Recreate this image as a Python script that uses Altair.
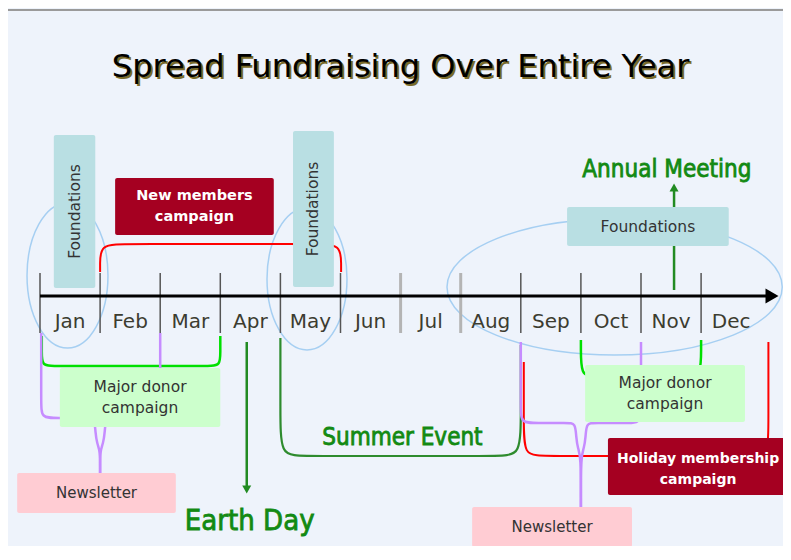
import altair as alt
import pandas as pd

# ---------------- values ----------------
TITLE = "Spread Fundraising Over Entire Year"

months = ["Jan", "Feb", "Mar", "Apr", "May", "Jun", "Jul", "Aug", "Sep", "Oct", "Nov", "Dec"]
month_start = list(range(12))
tick_color = ["#555555"] * 6 + ["#B4B4B4"] * 2 + ["#555555"] * 4
tick_width = [1.5] * 6 + [3.0] * 2 + [1.5] * 4

# boxes: month span and vertical span (units above the time axis)
box_label = ["Foundations", "Foundations", "Foundations", "New members\ncampaign",
             "Major donor\ncampaign", "Major donor\ncampaign", "Newsletter", "Newsletter",
             "Holiday membership\ncampaign"]
box_from = [0.23, 4.21, 8.77, 1.25, 0.33, 9.07, -0.38, 7.19, 9.45]
box_to = [0.92, 4.89, 11.46, 3.89, 3.00, 11.73, 2.26, 9.85, 12.45]
box_top = [161, 165, 89, 118, -72, -69, -177, -211, -142]
box_bottom = [8, 9, 50, 61, -131, -126, -217, -251, -199]
box_fill = ["#B9DFE3"] * 3 + ["#A50021"] + ["#CCFFCC"] * 2 + ["#FFCCD3"] * 2 + ["#A50021"]
box_text_color = ["#333333"] * 3 + ["#FFFFFF"] + ["#333333"] * 4 + ["#FFFFFF"]
box_text_size = [15.5, 15.5, 15.5, 14.5, 15.5, 15.5, 15, 15, 14]
box_text_angle = [270, 270, 0, 0, 0, 0, 0, 0, 0]
box_text_bold = [False] * 3 + [True] + [False] * 4 + [True]
box_text_shift = [0, 0, 0, -10.5, -10.5, -10.5, 0, 0, -8]

# campaign brackets
br_from = [1.0, 4.0, 8.05, 0.03, 9.0]
br_to = [5.01, 8.0, 12.12, 3.0, 11.0]
br_y_from = [24, -42, -66, -40, -44]
br_y_to = [24, -49, -46, -40, -44]
br_y_base = [52, -160, -160, -70, -80]
br_rx = [0.4, 0.33, 0.3, 0.2, 0.2]
br_ry = [22, 45, 35, 14, 30]
br_color = ["#FF0000", "#2E8B2E", "#FF0000", "#00E000", "#00E000"]
br_width = [2.0, 2.2, 2.0, 2.5, 2.5]

# newsletter braces
nl_from = [0.02, 8.0]
nl_to = [2.0, 10.0]
nl_mid = [1.0, 9.0]
nl_y_from = [-37, -46]
nl_y_base = [-122, -127]
nl_y_merge = [-154, -159]
nl_y_end = [-177, -211]

# ellipses (month span, vertical span)
ell_x_from = [-0.216, 3.777, 6.772]
ell_x_to = [1.131, 5.108, 12.35]
ell_y_from = [93, 88, 77]
ell_y_to = [-52, -54, -59]

# events
event_text = ["Annual Meeting", "Summer Event", "Earth Day"]
event_x = [10.43, 6.03, 3.49]
event_y = [119, -149, -234]
event_size = [24, 24, 29]

arrow_x = [3.44, 10.55]
arrow_from = [-46, 6]
arrow_to = [-190, 106]
arrow_head_y = [-193.5, 108.5]
arrow_shape = ["triangle-down", "triangle-up"]

# ---------------- scales ----------------
W, H = 775, 538
PX_PER_MONTH = 60.1
X_MIN, X_MAX = -32 / PX_PER_MONTH, (W - 32) / PX_PER_MONTH
Y_MAX = 288
Y_MIN = Y_MAX - H
PX_PER_UNIT = H / (Y_MAX - Y_MIN)

xs = alt.Scale(domain=[X_MIN, X_MAX], nice=False, zero=False)
ys = alt.Scale(domain=[Y_MIN, Y_MAX], nice=False, zero=False)


def X(f):
    return alt.X(f, type="quantitative", scale=xs, axis=None)


def Y(f):
    return alt.Y(f, type="quantitative", scale=ys, axis=None)


SANS = "DejaVu Sans"
HAND = "DejaVu Sans Condensed, DejaVu Sans"

layers = []

# top frame line
layers.append(alt.Chart(pd.DataFrame({"y": [286]})).mark_rule(color="#9A9A9A", strokeWidth=2)
              .encode(y=Y("y")))


# ellipses as custom symbols (Bezier outline in the unit square)
def ellipse_path(a, b):
    k = 0.5523
    f = lambda v: f"{v:.4f}"
    return (f"M{f(a)} 0 C{f(a)} {f(k*b)} {f(k*a)} {f(b)} 0 {f(b)} "
            f"C{f(-k*a)} {f(b)} {f(-a)} {f(k*b)} {f(-a)} 0 "
            f"C{f(-a)} {f(-k*b)} {f(-k*a)} {f(-b)} 0 {f(-b)} "
            f"C{f(k*a)} {f(-b)} {f(a)} {f(-k*b)} {f(a)} 0Z")


for x0, x1, y0, y1 in zip(ell_x_from, ell_x_to, ell_y_from, ell_y_to):
    rx = (x1 - x0) / 2 * PX_PER_MONTH
    ry = abs(y0 - y1) / 2 * PX_PER_UNIT
    m = max(rx, ry)
    d = pd.DataFrame({"x": [(x0 + x1) / 2], "y": [(y0 + y1) / 2]})
    layers.append(alt.Chart(d).mark_point(shape=ellipse_path(rx / m, ry / m), size=float((2 * m) ** 2),
                                          filled=False, color="#A6CFF2", strokeWidth=1.5, opacity=1)
                  .encode(x=X("x"), y=Y("y")))

# bracket + brace lines
rows = []
g = 0
for x0, x1, y0, y1, yb, rx, ry, c, w in zip(br_from, br_to, br_y_from, br_y_to, br_y_base,
                                            br_rx, br_ry, br_color, br_width):
    s0 = 1 if y0 > yb else -1
    s1 = 1 if y1 > yb else -1
    pts = [(x0, y0), (x0, yb + s0 * ry), (x0, yb), (x0 + rx, yb), (x1 - rx, yb), (x1, yb),
           (x1, yb + s1 * ry), (x1, y1)]
    for i, (px, py) in enumerate(pts):
        rows.append({"g": g, "o": i, "x": px, "y": py, "c": c, "w": w})
    g += 1

for x0, x1, xc, y0, yb, ym, ye in zip(nl_from, nl_to, nl_mid, nl_y_from, nl_y_base, nl_y_merge, nl_y_end):
    for side, xe in ((-1, x0), (1, x1)):
        pts = [(xe, y0), (xe, yb + 15), (xe, yb), (xe - side * 0.25, yb),
               (xc + side * 0.22, yb), (xc + side * 0.09, yb), (xc + side * 0.08, yb - 14),
               (xc + side * 0.05, ym + 6), (xc, ym), (xc, ye)]
        for i, (px, py) in enumerate(pts):
            rows.append({"g": g, "o": i, "x": px, "y": py, "c": "#C68CFF", "w": 2.5})
        g += 1

lines = pd.DataFrame(rows)
for gid in sorted(lines["g"].unique()):
    d = lines[lines["g"] == gid]
    layers.append(alt.Chart(d).mark_line(interpolate="basis", color=d["c"].iloc[0],
                                         strokeWidth=float(d["w"].iloc[0]))
                  .encode(x=X("x"), y=Y("y"), order="o:Q"))

# event arrows
arr = pd.DataFrame({"x": arrow_x, "y": arrow_from, "y2": arrow_to, "h": arrow_head_y})
layers.append(alt.Chart(arr).mark_rule(color="#228B22", strokeWidth=2.5)
              .encode(x=X("x"), y=Y("y"), y2="y2:Q"))
for i in range(len(arrow_x)):
    layers.append(alt.Chart(arr.iloc[[i]]).mark_point(shape=arrow_shape[i], filled=True, size=81,
                                                      color="#228B22", opacity=1)
                  .encode(x=X("x"), y=Y("h")))

# month ticks, time axis and arrow head
ticks = pd.DataFrame({"x": month_start, "y": [23] * 12, "y2": [-37] * 12})
for i in range(12):
    layers.append(alt.Chart(ticks.iloc[[i]]).mark_rule(color=tick_color[i], strokeWidth=tick_width[i])
                  .encode(x=X("x"), y=Y("y"), y2="y2:Q"))
ax = pd.DataFrame({"x": [0.0], "x2": [12.1], "y": [0.0], "hx": [12.18]})
layers.append(alt.Chart(ax).mark_rule(color="black", strokeWidth=3)
              .encode(x=X("x"), x2="x2:Q", y=Y("y")))
layers.append(alt.Chart(ax).mark_point(shape="triangle-right", filled=True, size=225,
                                       color="black", opacity=1)
              .encode(x=X("hx"), y=Y("y")))

# boxes
boxes = pd.DataFrame({"label": box_label, "x": box_from, "x2": box_to, "y": box_top, "y2": box_bottom})
boxes["cx"] = (boxes["x"] + boxes["x2"]) / 2
boxes["cy"] = (boxes["y"] + boxes["y2"]) / 2
for i in range(len(box_label)):
    layers.append(alt.Chart(boxes.iloc[[i]]).mark_rect(cornerRadius=2, color=box_fill[i])
                  .encode(x=X("x"), x2="x2:Q", y=Y("y"), y2="y2:Q"))
for i in range(len(box_label)):
    layers.append(alt.Chart(boxes.iloc[[i]])
                  .mark_text(font=SANS, fontWeight="bold" if box_text_bold[i] else "normal",
                             fontSize=box_text_size[i], color=box_text_color[i],
                             angle=box_text_angle[i], lineBreak="\n", lineHeight=21,
                             dy=box_text_shift[i], align="center", baseline="middle")
                  .encode(x=X("cx"), y=Y("cy"), text="label:N"))

# month labels
ml = pd.DataFrame({"m": months, "x": [s + 0.5 for s in month_start], "y": [-32] * 12})
layers.append(alt.Chart(ml).mark_text(font=SANS, fontSize=20, color="#3C3C30", align="center",
                                      baseline="alphabetic")
              .encode(x=X("x"), y=Y("y"), text="m:N"))

# title with shadow
tt = pd.DataFrame({"t": [TITLE], "x": [6.0], "y": [219]})
layers.append(alt.Chart(tt).mark_text(font=SANS, fontSize=32, color="#7A6B2A", dx=2, dy=2,
                                      align="center", baseline="alphabetic")
              .encode(x=X("x"), y=Y("y"), text="t:N"))
layers.append(alt.Chart(tt).mark_text(font=SANS, fontSize=32, color="#000000",
                                      align="center", baseline="alphabetic")
              .encode(x=X("x"), y=Y("y"), text="t:N"))

# events
ev = pd.DataFrame({"t": event_text, "x": event_x, "y": event_y})
for i in range(len(event_text)):
    layers.append(alt.Chart(ev.iloc[[i]]).mark_text(font=HAND, fontSize=event_size[i], color="#138A13",
                                                    stroke="#138A13", strokeWidth=0.8,
                                                    align="center", baseline="alphabetic")
                  .encode(x=X("x"), y=Y("y"), text="t:N"))

chart = alt.layer(*layers).properties(
    width=W, height=H, background="#EEF3FB", padding=0,
    autosize=alt.AutoSizeParams(type="none"),
).configure_view(strokeWidth=0)

chart.save("out.html", embed_options={"renderer": "svg", "actions": False})
